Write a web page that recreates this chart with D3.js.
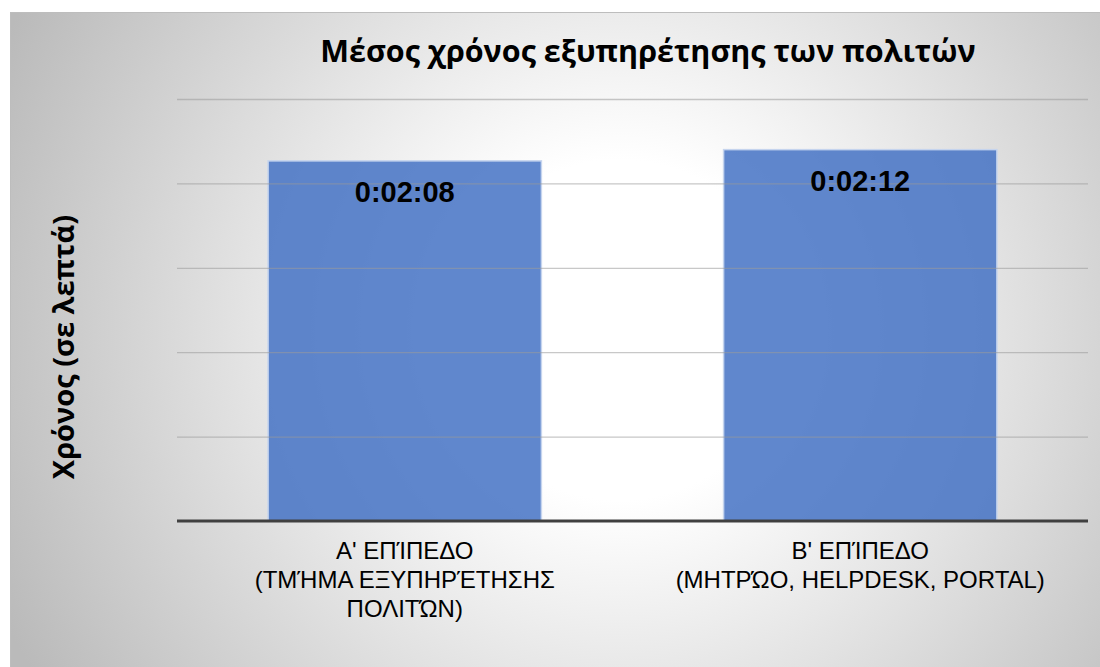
<!DOCTYPE html>
<html>
<head>
<meta charset="utf-8">
<script src="https://cdn.jsdelivr.net/npm/d3@7"></script>
<style>
  body { margin: 0; background: #fff; }
  svg { display: block; }
</style>
</head>
<body>
<script>
var width = 1100,
    height = 667;

// data
var categories = ["A", "B"];
var categoryLines = [
    ["Α' ΕΠΊΠΕΔΟ", "(ΤΜΉΜΑ ΕΞΥΠΗΡΈΤΗΣΗΣ", "ΠΟΛΙΤΏΝ)"],
    ["Β' ΕΠΊΠΕΔΟ", "(ΜΗΤΡΏΟ, HELPDESK, PORTAL)"]
];
var seconds = [128, 132]; // 0:02:08, 0:02:12
var yTicks = [0, 30, 60, 90, 120, 150];
var title = "Μέσος χρόνος εξυπηρέτησης των πολιτών";
var yTitle = "Χρόνος (σε λεπτά)";

function fmtTime(s) { // h:mm:ss
    var h = Math.floor(s / 3600), m = Math.floor((s % 3600) / 60), sec = s % 60;
    return h + ":" + d3.format("02")(m) + ":" + d3.format("02")(sec);
}

var svg = d3.select("body").append("svg").attr("width", width).attr("height", height);

// background gradient
var defs = svg.append("defs");
var grad = defs.append("radialGradient").attr("id", "bg")
    .attr("gradientUnits", "userSpaceOnUse")
    .attr("cx", 620).attr("cy", 330).attr("r", 680);
grad.append("stop").attr("offset", 0).attr("stop-color", "#ffffff");
grad.append("stop").attr("offset", 0.25).attr("stop-color", "#ffffff");
grad.append("stop").attr("offset", 1).attr("stop-color", "#bababa");

svg.append("rect")
    .attr("x", 10.5).attr("y", 12.5)
    .attr("width", width).attr("height", height)
    .attr("fill", "url(#bg)")
    .attr("stroke", "#bdbdbd");

var x = d3.scaleBand()
    .domain(categories)
    .range([177, 1088])
    .paddingInner(0.4)
    .paddingOuter(0.2);

var y = d3.scaleLinear()
    .domain([0, 150])
    .range([521, 99]);

// bars
svg.selectAll("rect.bar").data(seconds).enter().append("rect")
    .attr("class", "bar")
    .attr("x", (d, i) => x(categories[i]))
    .attr("y", d => y(d))
    .attr("width", x.bandwidth())
    .attr("height", d => y(0) - y(d))
    .attr("fill", "#4472c4")
    .attr("fill-opacity", 0.85)
    .attr("stroke", "#c5d4ee")
    .attr("stroke-width", 1.5);

// gridlines (drawn over, faint)
var yAxis = d3.axisLeft(y).tickValues(yTicks.slice(1)).tickSize(-(1088 - 177)).tickFormat("");
svg.append("g").attr("class", "grid")
    .attr("transform", "translate(177,0)")
    .call(yAxis)
    .call(g => g.select(".domain").remove())
    .call(g => g.selectAll(".tick line").attr("stroke", "#9a9a9a").attr("stroke-opacity", 0.55).attr("stroke-width", 1.3));

// baseline
svg.append("line")
    .attr("x1", 177).attr("x2", 1088)
    .attr("y1", y(0)).attr("y2", y(0))
    .attr("stroke", "#404040").attr("stroke-width", 3);

// value labels
svg.selectAll("text.val").data(seconds).enter().append("text")
    .attr("class", "val")
    .attr("x", (d, i) => x(categories[i]) + x.bandwidth() / 2)
    .attr("y", d => y(d) + 41)
    .attr("text-anchor", "middle")
    .attr("font-family", "Liberation Sans, Arial, sans-serif")
    .attr("font-weight", "bold")
    .attr("font-size", 29)
    .attr("fill", "#000")
    .text(d => fmtTime(d));

// category labels
var xl = svg.selectAll("text.cat").data(categoryLines).enter().append("text")
    .attr("class", "cat")
    .attr("text-anchor", "middle")
    .attr("font-family", "Liberation Sans, Arial, sans-serif")
    .attr("font-size", 24)
    .attr("fill", "#000");
xl.selectAll("tspan").data((d, i) => d.map(t => ({t: t, i: i}))).enter().append("tspan")
    .attr("x", d => x(categories[d.i]) + x.bandwidth() / 2)
    .attr("y", (d, j) => 559 + j * 29)
    .text(d => d.t);

// title
svg.append("text")
    .attr("x", 648).attr("y", 62)
    .attr("text-anchor", "middle")
    .attr("font-family", "Open Sans, sans-serif")
    .attr("font-weight", "bold")
    .attr("font-size", 30.5)
    .attr("fill", "#000")
    .text(title);

// y axis title
svg.append("text")
    .attr("transform", "translate(74,347) rotate(-90)")
    .attr("text-anchor", "middle")
    .attr("font-family", "Open Sans, sans-serif")
    .attr("font-weight", "bold")
    .attr("font-size", 29)
    .attr("fill", "#000")
    .text(yTitle);
</script>
</body>
</html>
